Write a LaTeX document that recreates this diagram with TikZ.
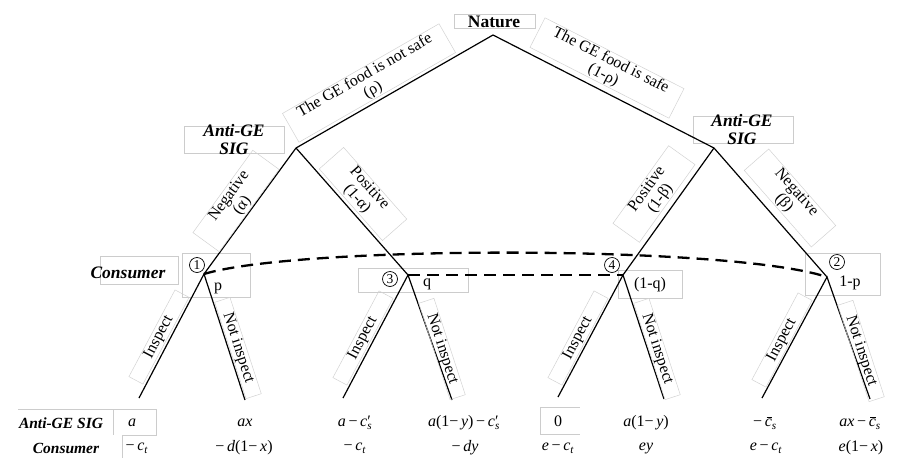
\documentclass[tikz,border=0pt]{standalone}
\usepackage{fontspec}
\setmainfont{Liberation Serif}
\usetikzlibrary{calc}
\newcommand\vv[1]{\textit{#1}}
\newcommand\mn{\char"2212}
\newcommand\csub[1]{\textit{c}\textsubscript{\textit{#1}}}
\newcommand\cprm{\textit{c}\rlap{\char"2032}\textsubscript{\textit{s}}}
\newcommand\cbrs{\textit{c}\makebox[0pt][r]{\raisebox{0.56em}{\rule{0.36em}{0.05em}}\kern-0.02em}\textsubscript{\textit{s}}}
\begin{document}
\begin{tikzpicture}[x=1pt,y=-1pt,
  tree/.style={line width=1.2pt,black},
  info/.style={line width=2.3pt,dash pattern=on 12pt off 7pt},
  gbox/.style={draw=gray!40,line width=0.5pt},
  lab/.style={font=\fontsize{16}{16.5}\selectfont,align=center,draw=gray!35,line width=0.5pt,inner ysep=1pt},
  role/.style={font=\fontsize{17.5}{18}\selectfont\bfseries\itshape,align=center,inner sep=0pt},
  prow/.style={font=\fontsize{15.5}{16}\selectfont\bfseries\itshape,inner sep=0pt},
  pay/.style={font=\fontsize{16}{17}\selectfont,inner sep=0pt},
  num/.style={circle,draw,line width=0.7pt,inner sep=0pt,minimum size=15pt,font=\fontsize{13.5}{13.5}\selectfont},
  prob/.style={font=\fontsize{16}{16}\selectfont,inner sep=0pt}]
\useasboundingbox (0,0) rectangle (901,458);

% tree vertices
\coordinate (nature) at (493,35);
\coordinate (sigL) at (296,148);
\coordinate (sigR) at (714,148);
\coordinate (n1) at (204,274);
\coordinate (n3) at (408,275);
\coordinate (n4) at (623,275);
\coordinate (n2) at (827,277);
\coordinate (l1a) at (139,398);
\coordinate (l1b) at (245,400);
\coordinate (l3a) at (343,398);
\coordinate (l3b) at (452,400);
\coordinate (l4a) at (558,397);
\coordinate (l4b) at (664,399);
\coordinate (l2a) at (762,398);
\coordinate (l2b) at (870,399);

% faint boxes
\draw[gbox] (454,14) rectangle (535,28);
\draw[gbox] (184,126) rectangle (284,153);
\draw[gbox] (693,116) rectangle (793,143);
\draw[gbox] (100,256) rectangle (178,284);
\draw[gbox] (182,253) rectangle (250,297);
\draw[gbox] (358,268) rectangle (468,292);
\draw[gbox] (618,270) rectangle (682,298);
\draw[gbox] (805,253) rectangle (880,295);
\draw[gbox] (18,409) -- (156,409) -- (156,435) -- (122,435) -- (122,458);
\draw[gbox] (113,409) -- (113,435);
\draw[gbox] (540,407) -- (580,407);
\draw[gbox] (540,407) -- (540,434) -- (580,434);

% tree edges
\draw[tree] (nature) -- (sigL);
\draw[tree] (nature) -- (sigR);
\draw[tree] (sigL) -- (n1);
\draw[tree] (sigL) -- (n3);
\draw[tree] (sigR) -- (n4);
\draw[tree] (sigR) -- (n2);
\foreach \n in {1,3,4,2}{
  \draw[tree] (l\n a) -- (n\n) -- (l\n b);
}

% information sets
\draw[info] (n1) .. controls (300,245) and (730,245) .. (n2);
\draw[info] (n3) -- (n4);

% players
\node[font=\fontsize{17.5}{18}\selectfont\bfseries,inner sep=0pt] (naturelab) at (494,22) {Nature};
\node[role] (sigLlab) at (234,140) {Anti-GE\\SIG};
\node[role] (sigRlab) at (742,130) {Anti-GE\\SIG};
\node[role] (conslab) at (128,273) {Consumer};

% branch labels
\node[lab,rotate=29.8,inner xsep=14pt] (notsafe) at (369,83) {The GE food is not safe\\(ρ)};
\node[lab,rotate=-27,inner xsep=14pt] (safe) at (607,68) {The GE food is safe\\(1-ρ)};
\node[lab,rotate=54,inner xsep=22pt] (negA) at (236,201) {Negative\\(α)};
\node[lab,rotate=-48.6,inner xsep=22pt] (posA) at (363,194) {Positive\\(1-α)};
\node[lab,rotate=54.4,inner xsep=22pt] (posB) at (654,194) {Positive\\(1-β)};
\node[lab,rotate=-48.8,inner xsep=22pt] (negB) at (790,198) {Negative\\(β)};
\foreach \n in {1,3,4,2}{
  \node[lab,rotate=62,inner xsep=26pt] (ins\n) at ($(n\n)+(-45,63)$) {Inspect};
  \node[lab,rotate=-72,inner xsep=14pt] (nins\n) at ($(n\n)+(34,74)$) {Not inspect};
}

% decision node numbers and probabilities
\node[num] (c1) at (197,265) {1};
\node[num] (c3) at (390,279) {3};
\node[num] (c4) at (612,265) {4};
\node[num] (c2) at (837,262) {2};
\node[prob] (pp) at (218,288) {p};
\node[prob] (pq) at (427,284) {q};
\node[prob] (p1q) at (650,285) {(1-q)};
\node[prob] (p1p) at (850,283) {1-p};

% payoffs
\node[prow] (rowS) at (61,423) {Anti-GE SIG};
\node[prow] (rowC) at (66,448) {Consumer};
\node[pay] (s1) at (132,423) {\vv{a}};
\node[pay] (s2) at (245,423) {\vv{ax}};
\node[pay] (s3) at (355,423) {\vv{a}\,\mn\,\cprm};
\node[pay] (s4) at (464,423) {\vv{a}(1\mn\,\vv{y})\,\mn\,\cprm};
\node[pay] (s5) at (558,421) {0};
\node[pay] (s6) at (646,423) {\vv{a}(1\mn\,\vv{y})};
\node[pay] (s7) at (765,423) {\mn\,\cbrs};
\node[pay] (s8) at (860,423) {\vv{ax}\,\mn\,\cbrs};
\node[pay] (u1) at (137,448) {\mn\,\csub{t}};
\node[pay] (u2) at (244,448) {\mn\,\vv{d}(1\mn\,\vv{x})};
\node[pay] (u3) at (355,448) {\mn\,\csub{t}};
\node[pay] (u4) at (465,448) {\mn\,\vv{dy}};
\node[pay] (u5) at (558,448) {\vv{e}\,\mn\,\csub{t}};
\node[pay] (u6) at (646,448) {\vv{ey}};
\node[pay] (u7) at (766,448) {\vv{e}\,\mn\,\csub{t}};
\node[pay] (u8) at (861,448) {\vv{e}(1\mn\,\vv{x})};
\end{tikzpicture}
\end{document}
